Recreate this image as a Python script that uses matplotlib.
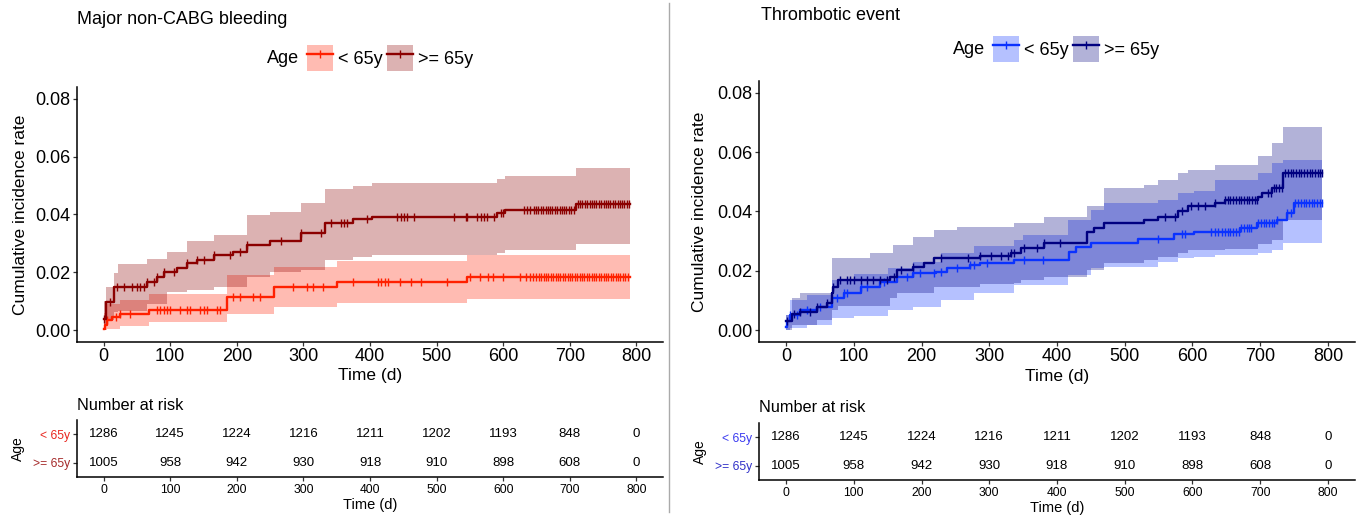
#!/usr/bin/env python3
import numpy as np
import matplotlib
matplotlib.use("Agg")
import matplotlib.pyplot as plt
from matplotlib.patches import Patch
from matplotlib.lines import Line2D

plt.rcParams['font.family'] = ['Liberation Sans', 'DejaVu Sans']

W, H = 1357, 517

groups = ["< 65y", ">= 65y"]
risk_times = [0, 100, 200, 300, 400, 500, 600, 700, 800]
risk_lt65 = [1286, 1245, 1224, 1216, 1211, 1202, 1193, 848, 0]
risk_ge65 = [1005, 958, 942, 930, 918, 910, 898, 608, 0]

# ---- Major non-CABG bleeding ----
bl_end = 790
bl_lt_t = [0, 2, 5, 12, 25, 68, 186, 256, 351, 546]
bl_lt_est = [0.0005, 0.002, 0.0035, 0.0046, 0.0056, 0.0072, 0.0116, 0.0151, 0.0168, 0.0185]
bl_lt_band_t = [0, 5, 25, 68, 186, 256, 351, 546]
bl_lt_lo = [0.0, 0.0005, 0.0015, 0.003, 0.0055, 0.008, 0.0093, 0.011]
bl_lt_hi = [0.006, 0.009, 0.0105, 0.0125, 0.019, 0.022, 0.0238, 0.026]
bl_lt_cens = [5, 18, 25, 40, 80, 85, 90, 95, 100, 115, 125, 130, 145, 150, 155, 170,
              175, 195, 205, 225, 235, 285, 305, 315, 330, 375, 412, 417, 422, 427,
              445, 462, 477, 515, 550, 565, 577, 585, 600, 625, 635, 640, 645,
              650, 654, 657, 661, 664, 668, 672, 675, 679, 682, 686, 690, 693, 697,
              700, 704, 708, 711, 715, 718, 722, 726, 729, 733, 736, 740, 744, 747,
              751, 754, 758, 762, 765, 769, 772, 776, 780, 783, 787]

bl_ge_t = [0, 3, 15, 65, 80, 90, 110, 125, 140, 165, 195, 215, 250, 296, 333, 375,
           403, 591, 603, 709]
bl_ge_est = [0.004, 0.0098, 0.015, 0.0168, 0.0185, 0.020, 0.0215, 0.0233, 0.0243,
             0.026, 0.027, 0.0296, 0.0307, 0.0336, 0.0369, 0.0383, 0.0392, 0.0406,
             0.0414, 0.0435]
bl_ge_band_t = [0, 3, 15, 22, 65, 95, 125, 165, 215, 250, 296, 333, 375, 403, 591,
                603, 709]
bl_ge_lo = [0.0, 0.0035, 0.0065, 0.0068, 0.009, 0.0133, 0.014, 0.015, 0.0185,
            0.020, 0.021, 0.0243, 0.0255, 0.026, 0.0268, 0.0278, 0.0299]
bl_ge_hi = [0.010, 0.015, 0.0197, 0.023, 0.0245, 0.027, 0.031, 0.033, 0.040, 0.041,
            0.044, 0.0487, 0.0499, 0.051, 0.0522, 0.0533, 0.0559]
bl_ge_cens = [0, 10, 20, 30, 43, 50, 55, 60, 65, 75, 80, 90, 105, 125, 140, 150, 165,
              190, 205, 215, 266, 296, 326, 341, 356, 361, 366, 396, 441, 446, 451,
              456, 466, 526, 544, 546, 561, 566, 571, 576, 586, 596, 599, 631, 636,
              641, 646, 650, 653, 657, 660, 664, 667, 671, 674, 678, 681, 685, 688,
              692, 695, 699, 702, 706, 712, 716, 719, 723, 726, 730, 733, 737, 740,
              744, 747, 751, 754, 758, 761, 765, 768, 772, 775, 779, 782, 786, 789]

# ---- Thrombotic event ----
th_end = 792
th_lt_t = [0, 2, 6, 21, 45, 68, 85, 110, 139, 164, 188, 222, 237, 272, 286, 336, 418,
           428, 450, 520, 573, 603, 670, 696, 725, 740, 750]
th_lt_est = [0.001, 0.003, 0.0051, 0.0068, 0.0079, 0.0107, 0.0124, 0.0146, 0.0163,
             0.018, 0.0192, 0.0197, 0.0208, 0.022, 0.0225, 0.0237, 0.0265, 0.028,
             0.0293, 0.0306, 0.0324, 0.0332, 0.0345, 0.036, 0.0372, 0.0394, 0.0428]
th_lt_band_t = [0, 6, 31, 68, 100, 150, 188, 228, 277, 336, 350, 416, 450, 470, 549,
                578, 603, 633, 697, 717, 734]
th_lt_lo = [0.0, 0.0006, 0.0017, 0.004, 0.0048, 0.0068, 0.0079, 0.010, 0.0124, 0.0152,
            0.0152, 0.0186, 0.0208, 0.0214, 0.023, 0.0242, 0.0248, 0.0252, 0.026,
            0.027, 0.0293]
th_lt_hi = [0.005, 0.0101, 0.0118, 0.0169, 0.019, 0.021, 0.023, 0.026, 0.0282, 0.0304,
            0.032, 0.0372, 0.0405, 0.0428, 0.044, 0.0462, 0.047, 0.0507, 0.053,
            0.0563, 0.0575]
th_lt_cens = [6, 16, 31, 50, 75, 85, 90, 110, 119, 144, 179, 188, 198, 218, 228, 253,
              272, 277, 297, 352, 379, 549, 584, 589, 628, 633, 638, 643,
              648, 652, 656, 660, 664, 668, 672, 676, 680, 684, 687,
              697, 701, 705, 709, 713, 717, 721, 725, 740, 745,
              752, 756, 760, 764, 768, 772, 776, 780, 784, 788, 791]

th_ge_t = [0, 8, 21, 45, 60, 68, 70, 77, 154, 164, 188, 203, 218, 287, 332, 347, 381,
           445, 455, 470, 529, 549, 578, 593, 633, 648, 697, 702, 717, 734]
th_ge_est = [0.003, 0.0056, 0.0062, 0.0079, 0.009, 0.0124, 0.0146, 0.0169, 0.018,
             0.0203, 0.0214, 0.0225, 0.0242, 0.0250, 0.026, 0.0276, 0.0293, 0.0332,
             0.0344, 0.036, 0.0372, 0.0383, 0.04, 0.0417, 0.0428, 0.0439, 0.045,
             0.0462, 0.0479, 0.0529]
th_ge_band_t = [0, 8, 21, 45, 68, 77, 124, 154, 158, 164, 188, 218, 253, 287, 336, 347,
                381, 445, 470, 529, 549, 578, 593, 633, 648, 697, 717, 734]
th_ge_lo = [0.0, 0.0017, 0.0017, 0.0034, 0.0068, 0.008, 0.008, 0.0107, 0.0107, 0.0124,
            0.0124, 0.0146, 0.0146, 0.0155, 0.0158, 0.0169, 0.018, 0.0203, 0.0225,
            0.0237, 0.0248, 0.026, 0.027, 0.027, 0.0275, 0.029, 0.0304, 0.0372]
th_ge_hi = [0.005, 0.0107, 0.0124, 0.0124, 0.0242, 0.0242, 0.0261, 0.0261, 0.0287,
            0.0287, 0.0315, 0.0338, 0.0349, 0.0349, 0.036, 0.036, 0.038, 0.0417,
            0.0479, 0.049, 0.0507, 0.053, 0.054, 0.0557, 0.0557, 0.0586, 0.063, 0.0684]
th_ge_cens = [1, 11, 21, 36, 45, 60, 70, 80, 90, 95, 100, 110, 119, 129, 139, 149, 159,
              169, 188, 228, 268, 287, 302, 317, 327, 332, 337, 352, 371, 381, 405,
              559, 574, 584, 598, 608, 618, 633,
              648, 652, 656, 660, 664, 668, 672, 676, 680, 684, 688, 692, 696,
              712, 716, 720, 724, 728, 732,
              737, 741, 745, 749, 753, 757, 761, 765, 769, 773, 777, 781, 785, 789, 792]

bl_colors = ['#FF2000', '#8B0000']
bl_text_colors = ['#E8261E', '#A52A2A']
th_colors = ['#0A32FF', '#000080']
th_text_colors = ['#3A3AF0', '#3030C8']


def box(x0, y0, x1, y1):
    return [x0 / W, 1 - y1 / H, (x1 - x0) / W, (y1 - y0) / H]


def step_at(times, vals, t):
    idx = np.searchsorted(times, t, side='right') - 1
    return np.asarray(vals)[np.clip(idx, 0, None)]


def draw_band(ax, band_t, lo, hi, end, color):
    tb = np.r_[band_t, end]
    ax.fill_between(tb, np.r_[lo, lo[-1]], np.r_[hi, hi[-1]], step='post',
                    color=color, alpha=0.3, lw=0)


def draw_line(ax, times, est, cens, end, color):
    ax.plot(np.r_[times, end], np.r_[est, est[-1]], drawstyle='steps-post',
            color=color, lw=1.7)
    ax.plot(cens, step_at(times, est, np.asarray(cens)), ls='none', marker='|',
            ms=6, mew=1.0, color=color)


def style_axes(ax):
    for s in ['top', 'right']:
        ax.spines[s].set_visible(False)
    for s in ['left', 'bottom']:
        ax.spines[s].set_linewidth(1.1)
        ax.spines[s].set_color('black')
    ax.tick_params(direction='out', length=3, width=0.9, color='#333333')


def draw_panel(fig, main_box, risk_box, title, title_xy, legend_y, age_x, key_x,
               curves, colors, text_colors, ylab_x, risk_age_x):
    ax = fig.add_axes(box(*main_box))
    # bands first, then the step lines with censoring ticks on top
    for (t, est, bt, lo, hi, cens, end), c in zip(curves, colors):
        draw_band(ax, bt, lo, hi, end, c)
    for (t, est, bt, lo, hi, cens, end), c in zip(curves, colors):
        draw_line(ax, t, est, cens, end, c)
    ax.set_xlim(-40, 840)
    ax.set_ylim(-0.004, 0.084)
    ax.set_xticks(risk_times)
    ax.set_yticks([0, 0.02, 0.04, 0.06, 0.08])
    ax.set_yticklabels(['0.00', '0.02', '0.04', '0.06', '0.08'])
    style_axes(ax)
    ax.tick_params(axis='both', labelsize=13, pad=1.5)
    ax.set_ylabel('Cumulative incidence rate', fontsize=12.5)
    ax.yaxis.set_label_coords(ylab_x, 0.5)
    ax.yaxis.label.set_va('center')
    ax.set_xlabel('Time (d)', fontsize=12.5)
    ax.xaxis.label.set_va('center')
    ax.xaxis.set_label_coords(0.5, -0.133)

    fig.text(title_xy[0] / W, 1 - title_xy[1] / H, title, fontsize=13,
             ha='left', va='center')
    fig.text(age_x / W, 1 - legend_y / H, 'Age', fontsize=13, ha='left', va='center')
    handles = [(Patch(facecolor=c, alpha=0.3, lw=0),
                Line2D([], [], color=c, lw=1.7, marker='|', ms=6, mew=1.0))
               for c in colors]
    fig.legend(handles, groups, loc='center left',
               bbox_to_anchor=(key_x / W, 1 - legend_y / H), ncol=2, frameon=False,
               fontsize=13, handlelength=1.44, handleheight=1.84, numpoints=1,
               handletextpad=0.28, columnspacing=0.22, borderpad=0, borderaxespad=0)

    rx = fig.add_axes(box(*risk_box))
    rx.set_xlim(-40, 840)
    rx.set_ylim(0.5, 2.5)
    rows = [risk_lt65, risk_ge65]
    ypos = [2, 1]
    for r, y in zip(rows, ypos):
        for t, n in zip(risk_times, r):
            rx.text(t, y, str(n), ha='center', va='center', fontsize=9.5)
    style_axes(rx)
    rx.set_xticks(risk_times)
    rx.set_yticks(ypos)
    rx.set_yticklabels(groups)
    for lab, c in zip(rx.get_yticklabels(), text_colors):
        lab.set_color(c)
    rx.tick_params(axis='both', labelsize=8.7, pad=2)
    rx.set_ylabel('Age', fontsize=10)
    rx.yaxis.set_label_coords((risk_age_x - risk_box[0]) / (risk_box[2] - risk_box[0]), 0.5)
    rx.yaxis.label.set_va('center')
    rx.set_xlabel('Time (d)', fontsize=10.5)
    rx.xaxis.label.set_va('center')
    rx.xaxis.set_label_coords(0.5, -28 / (risk_box[3] - risk_box[1]))
    rx.text(0, 1 + 15 / (risk_box[3] - risk_box[1]), 'Number at risk',
            transform=rx.transAxes, fontsize=11.7, ha='left', va='center')
    return ax, rx


fig = plt.figure(figsize=(W / 100, H / 100), dpi=100)

draw_panel(fig, (77, 87, 663, 342), (77, 420, 663, 477),
           'Major non-CABG bleeding', (77, 20), 58, 267, 307,
           [(bl_lt_t, bl_lt_est, bl_lt_band_t, bl_lt_lo, bl_lt_hi, bl_lt_cens, bl_end),
            (bl_ge_t, bl_ge_est, bl_ge_band_t, bl_ge_lo, bl_ge_hi, bl_ge_cens, bl_end)],
           bl_colors, bl_text_colors, -0.097, 18)

draw_panel(fig, (759, 81, 1355, 342), (759, 423, 1355, 480),
           'Thrombotic event', (761, 15), 49, 953, 993,
           [(th_lt_t, th_lt_est, th_lt_band_t, th_lt_lo, th_lt_hi, th_lt_cens, th_end),
            (th_ge_t, th_ge_est, th_ge_band_t, th_ge_lo, th_ge_hi, th_ge_cens, th_end)],
           th_colors, th_text_colors, -0.099, 700)

fig.add_artist(Line2D([669 / W, 669 / W], [0.01, 0.995], color='#AAAAAA', lw=1.0))

fig.savefig('out.png', dpi=100)
